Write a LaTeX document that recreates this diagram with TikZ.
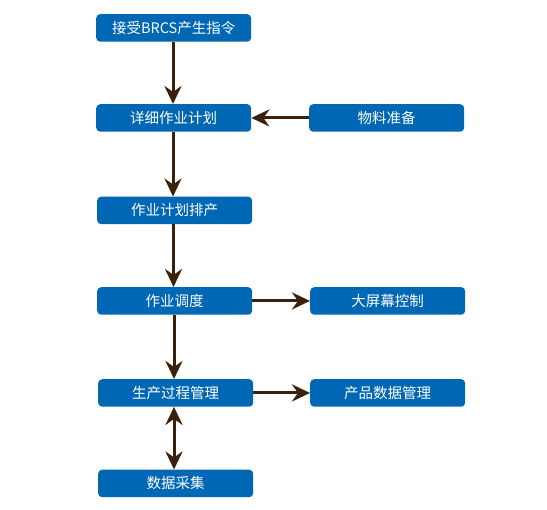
\documentclass[tikz,border=0pt]{standalone}
\usepackage{fontspec}
\setmainfont{Noto Sans CJK SC}
\usetikzlibrary{arrows.meta}
\definecolor{boxblue}{RGB}{0,103,180}
\definecolor{arrowbrown}{RGB}{59,33,12}
\tikzset{
  box/.style={fill=boxblue, rounded corners=4pt, text=white, minimum width=155pt, minimum height=27.5pt, inner sep=0pt, font=\fontsize{14.5pt}{16pt}\selectfont, anchor=north west},
  conn/.style={draw=arrowbrown, line width=3pt, -{Stealth[length=18pt,width=17pt,inset=6pt]}},
  dconn/.style={draw=arrowbrown, line width=3pt, {Stealth[length=18pt,width=17pt,inset=6pt]}-{Stealth[length=18pt,width=17pt,inset=6pt]}}
}
\begin{document}
\begin{tikzpicture}[x=1pt,y=-1pt]
\useasboundingbox (0,0) rectangle (547,510);
\node[box] (n1) at (96,14) {接受BRCS产生指令};
\node[box] (n2) at (96,104) {详细作业计划};
\node[box] (wl) at (309,104) {物料准备};
\node[box] (n3) at (97,196.5) {作业计划排产};
\node[box] (n4) at (97,287) {作业调度};
\node[box] (dp) at (310,287) {大屏幕控制};
\node[box] (n5) at (98,379) {生产过程管理};
\node[box] (cp) at (310,379) {产品数据管理};
\node[box] (n6) at (98,469.5) {数据采集};
\draw[conn] (n1.south -| 173,0) -- (n2.north -| 173,0);
\draw[conn] (wl.west) -- (n2.east);
\draw[conn] (n2.south -| 173,0) -- (n3.north -| 173,0);
\draw[conn] (n3.south -| 173.5,0) -- (n4.north -| 173.5,0);
\draw[conn] (n4.east) -- (dp.west);
\draw[conn] (n4.south -| 174,0) -- (n5.north -| 174,0);
\draw[conn] (n5.east) -- (cp.west);
\draw[dconn] (n5.south -| 174,0) -- (n6.north -| 174,0);
\end{tikzpicture}
\end{document}
